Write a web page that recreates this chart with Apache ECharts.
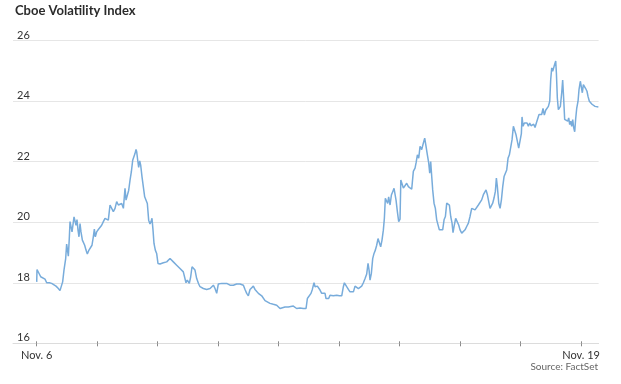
<!DOCTYPE html>
<html>
<head>
<meta charset="utf-8">
<script src="https://cdn.jsdelivr.net/npm/echarts@6/dist/echarts.min.js"></script>
<style>html,body{margin:0;padding:0;background:#fff}#c{width:621px;height:384px}</style>
</head>
<body>
<div id="c"></div>
<script>
// Time in trading days since Nov. 6 open (0 = Nov. 6, 9 = Nov. 19)
const timesA = [0,0.005,0.027,0.066,0.099,0.137,0.165,0.209,0.247,0.275,0.319,0.358,0.385,0.407,0.429,0.451,0.479,0.495,0.512,0.523,0.540,0.551,0.567,0.584,0.600,0.617,0.633,0.650,0.666,0.683,0.699,0.716,0.732,0.755,0.777,0.793,0.815,0.837,0.859,0.887,0.914,0.936,0.953,0.969,0.991,1.019,1.047,1.074,1.102,1.129,1.157,1.184,1.212,1.240,1.267,1.295,1.322,1.350,1.377,1.405,1.433,1.460,1.477,1.499,1.521,1.543,1.565,1.587,1.609,1.625,1.642,1.653,1.670,1.686,1.703,1.719,1.741,1.763,1.785,1.807,1.829,1.851,1.873,1.890,1.906,1.923,1.939,1.961,1.983,2.005,2.039,2.094,2.149,2.204,2.232,2.259,2.314,2.369,2.424,2.452,2.468,2.490,2.523,2.546,2.568,2.601,2.617,2.645,2.678];
const vixA = [18.03,18.44,18.42,18.2,18.14,18.12,18.0,18.0,17.98,17.92,17.89,17.81,17.74,17.78,18.03,18.42,18.8,19.28,19.25,18.88,19.52,20.02,19.97,19.68,19.63,20.18,20.22,19.9,20.09,19.74,19.52,19.96,19.68,19.41,19.46,19.24,19.08,18.95,19.06,19.08,19.24,19.52,19.77,19.52,19.68,19.76,19.74,19.9,20.02,20.13,20.16,20.07,20.57,20.62,20.35,20.46,20.68,20.57,20.51,20.62,20.46,21.12,20.73,20.68,21.06,21.39,21.67,22.05,22.07,22.27,22.41,22.33,22.05,21.81,22.03,21.89,21.5,21.17,20.84,20.79,20.62,20.07,19.94,20.02,20.13,19.74,19.3,19.08,18.97,18.64,18.62,18.66,18.69,18.8,18.79,18.69,18.58,18.47,18.36,18.33,18.0,18.09,17.98,18.2,18.53,18.55,18.42,18.14,17.96];

const timesB = [2.700,2.755,2.810,2.866,2.921,2.948,2.976,3.003,3.058,3.141,3.196,3.251,3.306,3.361,3.389,3.417,3.444,3.472,3.499,3.527,3.554,3.582,3.609,3.637,3.665,3.692,3.720,3.747,3.775,3.802,3.857,3.912,3.968,4.023,4.050,4.105,4.160,4.188,4.243,4.271,4.298,4.353,4.409,4.453,4.475,4.508,4.535,4.557,4.585,4.602,4.618,4.640,4.662,4.684,4.712,4.739,4.767,4.783,4.805,4.827,4.849,4.877,4.905,4.932,4.960,5.004,5.043,5.070,5.087,5.109,5.125,5.153,5.180,5.208,5.236,5.263,5.291,5.318,5.346,5.373,5.401,5.429,5.456,5.478,5.495,5.511,5.533,5.555,5.577,5.599,5.621,5.643,5.665,5.687,5.709,5.731,5.748,5.764,5.786,5.803,5.819,5.842,5.864,5.886,5.908,5.924,5.941,5.963,5.985];
const vixB = [17.87,17.81,17.78,17.81,17.92,17.81,17.65,17.96,17.98,17.98,17.92,17.92,17.96,17.96,18.0,17.92,17.78,17.65,17.57,17.78,17.81,17.89,17.78,17.74,17.65,17.65,17.57,17.54,17.41,17.37,17.32,17.29,17.26,17.15,17.18,17.2,17.2,17.26,17.23,17.26,17.15,17.17,17.15,17.15,17.48,17.54,17.65,17.78,18.0,17.87,17.92,17.89,17.85,17.76,17.65,17.62,17.65,17.48,17.54,17.48,17.59,17.54,17.57,17.54,17.59,17.57,17.57,17.87,18.0,17.96,17.87,17.78,17.7,17.65,17.7,17.89,17.87,17.81,17.78,17.89,18.0,18.14,18.29,18.64,18.42,18.09,18.31,18.8,18.97,19.08,19.24,19.46,19.41,19.19,19.41,19.74,20.13,20.79,20.84,20.62,20.84,20.57,20.9,21.01,21.12,21.06,20.73,20.35,20.02];

const timesC = [6.007,6.020,6.035,6.062,6.090,6.117,6.145,6.172,6.200,6.227,6.255,6.272,6.294,6.316,6.338,6.365,6.393,6.415,6.437,6.459,6.481,6.498,6.514,6.531,6.547,6.569,6.591,6.613,6.635,6.657,6.690,6.712,6.735,6.757,6.779,6.801,6.823,6.845,6.867,6.883,6.905,6.927,6.955,6.977,6.999,7.027,7.054,7.082,7.109,7.137,7.164,7.192,7.220,7.247,7.275,7.302,7.330,7.357,7.385,7.407,7.429,7.451,7.473,7.495,7.517,7.539,7.561,7.583,7.600,7.616,7.639,7.661,7.683,7.705,7.727,7.749,7.771,7.793,7.815,7.837,7.859,7.881,7.903,7.925,7.947,7.969,7.991,8.013,8.024,8.041,8.063,8.085,8.107,8.129,8.151,8.173,8.195,8.217,8.239,8.261,8.283,8.305,8.327,8.349,8.371,8.393,8.415,8.437,8.460,8.482,8.498,8.515,8.531,8.548,8.564,8.581,8.592,8.608,8.625,8.641,8.658,8.680,8.696,8.713,8.729,8.746,8.762,8.779,8.796,8.812,8.829,8.845,8.862,8.878,8.895,8.911,8.928,8.950,8.966,8.988,9.005,9.021,9.038,9.054,9.076,9.098,9.115,9.137,9.159,9.181,9.203,9.231,9.258,9.286];
const vixC = [20.1,21.4,21.4,21.13,21.18,21.29,21.18,21.13,21.09,21.68,21.79,21.96,22.23,22.12,22.51,22.4,22.62,22.78,22.51,22.23,21.96,21.62,22.01,21.51,21.07,20.63,20.46,20.08,20.02,19.75,19.72,19.75,20.08,20.19,20.63,20.57,20.57,20.19,19.97,19.66,19.91,20.13,20.13,19.91,19.75,19.64,19.61,19.75,19.86,19.97,20.19,20.46,20.46,20.41,20.41,20.57,20.63,20.74,20.91,20.85,21.07,20.91,20.96,20.46,20.52,20.63,20.8,21.02,21.46,21.18,20.63,20.46,20.74,21.18,21.51,21.62,21.73,22.12,22.23,22.23,22.73,23.17,23.23,22.89,22.67,22.45,22.4,22.93,23.48,23.17,23.28,23.23,23.28,23.17,23.28,23.19,23.13,23.24,23.13,23.28,23.23,23.56,23.59,23.56,23.76,23.54,23.7,23.76,23.83,24.0,24.71,25.1,24.99,25.04,25.22,25.33,24.94,24.1,23.72,23.67,23.83,24.28,24.7,24.06,23.4,23.34,23.42,23.34,23.45,23.23,23.34,23.17,23.39,23.13,22.99,23.42,23.76,24.0,24.38,24.66,24.66,24.28,24.55,24.5,24.42,24.33,24.16,24.0,23.94,23.9,23.86,23.83,23.78,23.81];

const tickDays = [0,1,2,3,4,5,6,7,8,9];
const labelDays = [0, 9];
const tickLabels = ['Nov. 6', 'Nov. 19'];
const yTicks = [16, 18, 20, 22, 24, 26];

const times = timesA.concat(timesB, timesC);
const vix = vixA.concat(vixB, vixC);
const seriesData = times.map((t, i) => [t, vix[i]]);

const FONT = 'Lato, "Noto Sans", sans-serif';
const chart = echarts.init(document.getElementById('c'), null, {renderer: 'canvas'});
const xCommon = {
  type: 'value', min: -0.392, max: 9.29, splitLine: {show: false}
};
chart.setOption({
  animation: false,
  backgroundColor: '#fff',
  title: [
    {text: 'Cboe Volatility Index', left: 15, top: 4, padding: 0,
     textStyle: {fontFamily: FONT, fontSize: 13, fontWeight: 'bold', color: '#2b2b2b'}},
    {text: 'Source: FactSet', right: 23, top: 362, padding: 0,
     textStyle: {fontFamily: FONT, fontSize: 10, fontWeight: 'normal', color: '#666'}}
  ],
  grid: {left: 13, right: 22.4, top: 40.7, bottom: 40.7, containLabel: false},
  xAxis: [
    Object.assign({}, xCommon, {
      position: 'bottom',
      axisLine: {show: true, lineStyle: {color: '#dcdcdc', width: 1}},
      axisTick: {show: true, customValues: tickDays, length: 3, lineStyle: {color: '#8a8a8a'}},
      axisLabel: {
        customValues: labelDays, margin: 7,
        fontFamily: FONT, fontSize: 11, color: '#333',
        formatter: v => tickLabels[labelDays.indexOf(Math.round(v))] || ''
      }
    }),
    Object.assign({}, xCommon, {
      position: 'bottom',
      axisLine: {show: false},
      axisTick: {show: true, inside: true, customValues: tickDays, length: 2, lineStyle: {color: '#8a8a8a'}},
      axisLabel: {show: false}
    })
  ],
  yAxis: {
    type: 'value', min: 16, max: 26, interval: 2,
    axisLine: {show: false}, axisTick: {show: false},
    splitLine: {show: true, lineStyle: {color: '#e6e6e6', width: 1}},
    axisLabel: {
      inside: true, margin: 4, verticalAlign: 'bottom',
      fontFamily: FONT, fontSize: 11, color: '#333',
      formatter: v => yTicks.indexOf(v) >= 0 ? String(v) : ''
    }
  },
  series: [{
    type: 'line', xAxisIndex: 0, data: seriesData,
    showSymbol: false, smooth: false,
    lineStyle: {color: '#78acdb', width: 1.5},
    z: 3
  }]
});
</script>
</body>
</html>
